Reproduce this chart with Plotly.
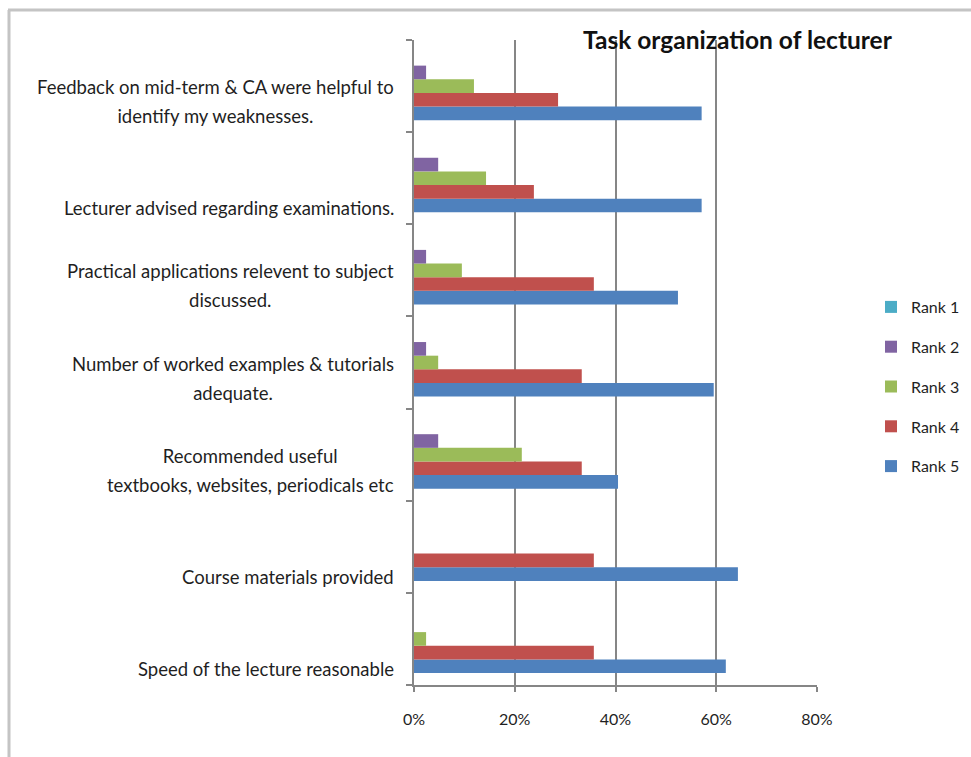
import plotly.graph_objects as go

categories = [
    "Feedback on mid-term & CA were helpful to\nidentify my weaknesses.",
    "Lecturer advised regarding examinations.",
    "Practical applications relevent to subject\ndiscussed.",
    "Number of worked examples & tutorials\nadequate.",
    "Recommended useful\ntextbooks, websites, periodicals etc",
    "Course materials provided",
    "Speed of the lecture reasonable",
]
series_names = ["Rank 1", "Rank 2", "Rank 3", "Rank 4", "Rank 5"]
rank1 = [0, 0, 0, 0, 0, 0, 0]
rank2 = [2.4, 4.8, 2.4, 2.4, 4.8, 0, 0]
rank3 = [11.9, 14.3, 9.5, 4.8, 21.4, 0, 2.4]
rank4 = [28.6, 23.8, 35.7, 33.3, 33.3, 35.7, 35.7]
rank5 = [57.1, 57.1, 52.4, 59.5, 40.5, 64.3, 61.9]
x_ticks = [0, 20, 40, 60, 80]
title_text = "Task organization of lecturer"

series_values = [rank1, rank2, rank3, rank4, rank5]
colors = ["#4BACC6", "#8064A2", "#9BBB59", "#C0504D", "#4F81BD"]

W, H = 971, 757
ML, MR, MT, MB = 414, 154, 40, 72
PW, PH = W - ML - MR, H - MT - MB
FONT = "Lato"
TXT = "#1f1f1f"
AXC = "#868686"

def px2x(px):
    return (px - ML) / PW

def py2y(py):
    return (H - MB - py) / PH

fig = go.Figure()
# bottom-most bar in each group first
entries = list(zip(series_names, series_values, colors))
for rank, (name, vals, col) in reversed(list(enumerate(entries))):
    fig.add_trace(go.Bar(
        y=categories, x=vals, name=name, orientation="h",
        marker=dict(color=col, line=dict(width=0)),
        legendgroup=name, legendrank=rank + 1,
    ))

annotations = []
fs = 18.5
line_fs = 22.3  # controls spacing between wrapped lines (1.3 em)
for cat in categories:
    lines = cat.split("\n")
    text = "<br>".join(f"<span style='font-size:{fs}px'>{ln}</span>" for ln in lines)
    two = len(lines) > 1
    annotations.append(dict(
        x=0, xref="paper", y=cat, yref="y", text=text,
        xanchor="right", yanchor="middle", xshift=-18,
        yshift=-15.5 if two else -30,
        align="center", showarrow=False,
        font=dict(family=FONT, size=line_fs if two else fs, color=TXT)))

shapes = [
    dict(type="line", xref="paper", yref="paper",
         x0=px2x(8), x1=px2x(W + 5), y0=py2y(10), y1=py2y(10),
         line=dict(color="#c4c4c4", width=3)),
    dict(type="line", xref="paper", yref="paper",
         x0=px2x(9), x1=px2x(9), y0=py2y(10), y1=py2y(H + 5),
         line=dict(color="#c4c4c4", width=3)),
]

fig.update_layout(
    width=W, height=H,
    margin=dict(l=ML, r=MR, t=MT, b=MB, pad=0),
    paper_bgcolor="white", plot_bgcolor="white",
    barmode="group", bargap=0.26, bargroupgap=0,
    font=dict(family=FONT, color=TXT),
    title=dict(text="<b>" + title_text + "</b>", x=583 / W, xanchor="left",
               xref="container",
               y=1 - 40 / H, yanchor="middle", yref="container",
               font=dict(family=FONT, size=24.5, color="#111")),
    xaxis=dict(range=[0, 80], tickvals=x_ticks, ticktext=[f"{v}%" for v in x_ticks],
               showgrid=True, gridcolor=AXC, gridwidth=1.5,
               showline=True, linecolor=AXC, linewidth=1.5,
               ticks="outside", ticklen=5, tickcolor=AXC, tickwidth=1.5,
               zeroline=False, tickfont=dict(family=FONT, size=16, color=TXT),
               ticklabelstandoff=14, fixedrange=True),
    yaxis=dict(type="category", categoryorder="array",
               categoryarray=list(reversed(categories)),
               showticklabels=False, showgrid=False, zeroline=False,
               showline=True, linecolor=AXC, linewidth=1.5,
               ticks="outside", ticklen=6, tickcolor=AXC, tickwidth=1.5,
               tickson="boundaries"),
    legend=dict(x=871 / W, y=1 - 290 / H, xref="container", yref="container",
                xanchor="left", yanchor="top",
                traceorder="grouped", tracegroupgap=16,
                font=dict(family=FONT, size=16, color=TXT),
                bgcolor="rgba(0,0,0,0)"),
    annotations=annotations,
    shapes=shapes,
)

fig.write_html("out.html", config={"displayModeBar": False},
               post_script="document.body.style.margin='0px';")
